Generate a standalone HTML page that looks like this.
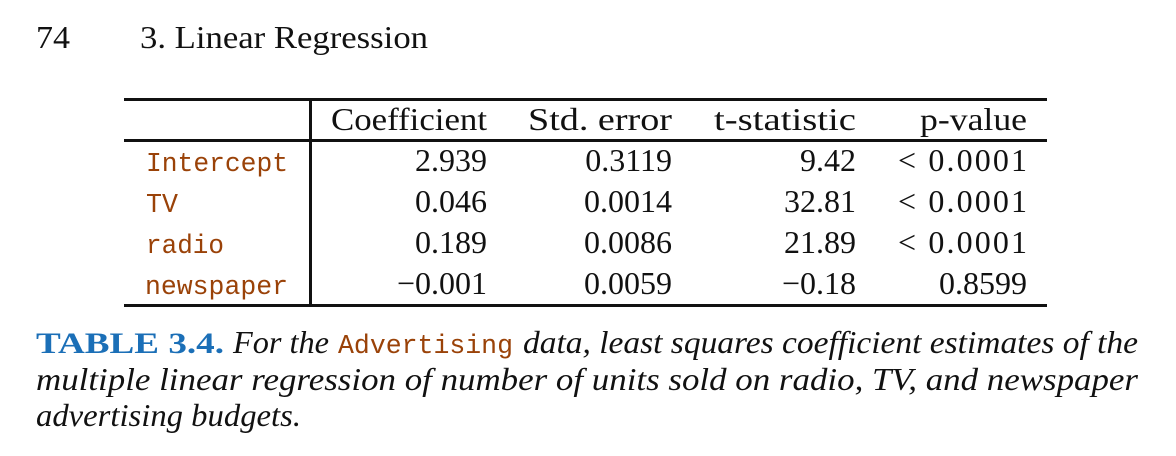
<!DOCTYPE html>
<html><head><meta charset="utf-8"><style>
html,body{margin:0;padding:0;background:#fff;}
svg{display:block;}
.s{font-family:"Liberation Serif",serif;font-size:32px;fill:#111;}
.i{font-family:"Liberation Serif",serif;font-style:italic;font-size:32px;fill:#111;}
.m{font-family:"Liberation Mono",monospace;font-size:27px;fill:#9a4208;}
.b{font-family:"Liberation Serif",serif;font-weight:bold;font-size:30px;fill:#1b6fb7;}
</style></head><body>
<svg width="1176" height="456">
<text class="s" x="36" y="48" textLength="34" lengthAdjust="spacingAndGlyphs">74</text>
<text class="s" x="140" y="48" textLength="288" lengthAdjust="spacingAndGlyphs">3.  Linear Regression</text>

<rect x="124" y="98" width="923" height="3" fill="#111"/>
<rect x="124" y="139" width="923" height="3" fill="#111"/>
<rect x="124" y="304" width="923" height="3" fill="#111"/>
<rect x="309" y="98" width="3" height="209" fill="#111"/>

<g>
<text class="s" x="331" y="130" textLength="156" lengthAdjust="spacingAndGlyphs">Coefficient</text>
<text class="s" x="528" y="130" textLength="144" lengthAdjust="spacingAndGlyphs">Std. error</text>
<text class="s" x="714" y="130" textLength="142" lengthAdjust="spacingAndGlyphs">t-statistic</text>
<text class="s" x="920" y="130" textLength="107" lengthAdjust="spacingAndGlyphs">p-value</text>
</g>

<g>
<text class="m" x="146" y="171" textLength="142" lengthAdjust="spacingAndGlyphs">Intercept</text>
<text class="m" x="146" y="212" textLength="32" lengthAdjust="spacingAndGlyphs">TV</text>
<text class="m" x="146" y="253" textLength="78" lengthAdjust="spacingAndGlyphs">radio</text>
<text class="m" x="145" y="294" textLength="143" lengthAdjust="spacingAndGlyphs">newspaper</text>
</g>

<g text-anchor="end">
<text class="s" x="487" y="171">2.939</text>
<text class="s" x="487" y="212">0.046</text>
<text class="s" x="487" y="253">0.189</text>
<text class="s" x="487" y="294">−0.001</text>
<text class="s" x="672" y="171">0.3119</text>
<text class="s" x="672" y="212">0.0014</text>
<text class="s" x="672" y="253">0.0086</text>
<text class="s" x="672" y="294">0.0059</text>
<text class="s" x="856" y="171">9.42</text>
<text class="s" x="856" y="212">32.81</text>
<text class="s" x="856" y="253">21.89</text>
<text class="s" x="856" y="294">−0.18</text>
<text class="s" x="1027" y="171" textLength="129" lengthAdjust="spacing">&lt; 0.0001</text>
<text class="s" x="1027" y="212" textLength="129" lengthAdjust="spacing">&lt; 0.0001</text>
<text class="s" x="1027" y="253" textLength="129" lengthAdjust="spacing">&lt; 0.0001</text>
<text class="s" x="1027" y="294">0.8599</text>
</g>

<g>
<text class="b" x="36" y="353" textLength="188" lengthAdjust="spacingAndGlyphs">TABLE 3.4.</text>
<text class="i" x="233" y="353" textLength="96" lengthAdjust="spacingAndGlyphs">For the</text>
<text class="m" x="338" y="353" textLength="175" lengthAdjust="spacingAndGlyphs">Advertising</text>
<text class="i" x="523" y="353" textLength="615" lengthAdjust="spacingAndGlyphs">data, least squares coefficient estimates of the</text>
<text class="i" x="36" y="390" textLength="1102" lengthAdjust="spacingAndGlyphs">multiple linear regression of number of units sold on radio, TV, and newspaper</text>
<text class="i" x="36" y="426" textLength="265" lengthAdjust="spacingAndGlyphs">advertising budgets.</text>
</g>
</svg>
</body></html>
